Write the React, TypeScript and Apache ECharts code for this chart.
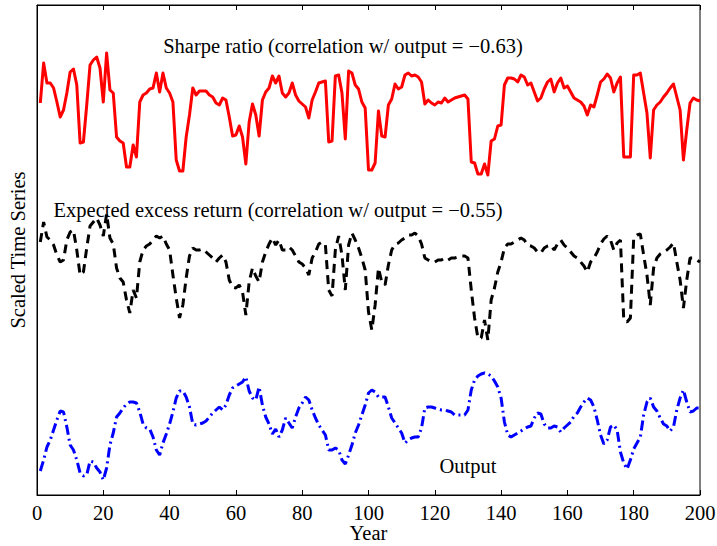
import React, { useEffect, useRef } from "react";
import * as echarts from "echarts";

// Years 1..200
const years: number[] = Array.from({ length: 200 }, (_, i) => i + 1);

// Scaled level (measured downward from the top of the frame; y axis is inverted)
const sharpeRatio: number[] = [
  103, 63, 83, 83, 88, 102, 117, 110, 93, 72,
  69, 85, 143, 142, 105, 65, 60, 57, 68, 102,
  53, 90, 93, 137, 141, 143, 167, 167, 145, 157,
  102, 95, 93, 89, 88, 73, 92, 73, 88, 93,
  102, 160, 171, 171, 137, 115, 88, 95, 91, 91,
  91, 95, 97, 103, 105, 98, 100, 117, 136, 135,
  126, 137, 164, 122, 104, 115, 136, 100, 92, 88,
  76, 83, 76, 93, 97, 93, 83, 95, 101, 104,
  107, 118, 100, 92, 83, 82, 81, 142, 141, 76,
  75, 93, 139, 71, 73, 85, 89, 102, 108, 170,
  170, 163, 111, 136, 137, 105, 99, 84, 89, 87,
  75, 73, 76, 75, 77, 82, 104, 100, 103, 105,
  102, 103, 98, 102, 100, 98, 97, 96, 95, 99,
  162, 163, 174, 174, 164, 175, 141, 139, 126, 125,
  85, 78, 78, 79, 82, 75, 77, 85, 83, 92,
  101, 98, 89, 82, 79, 92, 83, 78, 88, 86,
  92, 98, 100, 102, 106, 115, 105, 107, 95, 82,
  79, 74, 78, 92, 83, 77, 157, 157, 157, 75,
  75, 73, 93, 113, 158, 110, 105, 102, 97, 93,
  88, 84, 97, 110, 160, 130, 103, 98, 100, 101,
];

const expectedExcessReturn: number[] = [
  242, 222, 237, 240, 245, 255, 262, 260, 240, 232,
  230, 250, 275, 272, 248, 226, 222, 218, 225, 236,
  214, 238, 244, 268, 278, 282, 300, 313, 290, 298,
  262, 250, 246, 244, 240, 236, 238, 236, 244, 250,
  275, 298, 318, 305, 278, 256, 248, 250, 250, 249,
  252, 255, 258, 262, 258, 255, 262, 280, 287, 288,
  285, 292, 315, 282, 268, 276, 282, 262, 252, 244,
  238, 245, 240, 250, 250, 247, 250, 256, 262, 264,
  268, 275, 258, 252, 244, 242, 245, 290, 296, 250,
  236, 255, 290, 245, 233, 240, 248, 258, 270, 312,
  330, 305, 268, 282, 285, 265, 250, 244, 243, 240,
  238, 235, 235, 233, 236, 244, 258, 260, 262, 262,
  260, 260, 258, 260, 258, 258, 257, 256, 256, 258,
  290, 318, 338, 338, 320, 340, 300, 288, 272, 262,
  248, 244, 244, 242, 240, 238, 240, 245, 246, 248,
  252, 253, 248, 246, 245, 250, 244, 240, 245, 248,
  252, 256, 258, 262, 266, 272, 262, 258, 252, 244,
  239, 236, 240, 250, 243, 240, 320, 322, 318, 238,
  235, 234, 255, 275, 305, 268, 258, 254, 252, 250,
  247, 243, 262, 280, 308, 280, 258, 258, 260, 262,
];

const outputSeries: number[] = [
  471, 460, 447, 440, 430, 420, 411, 412, 427, 445,
  450, 460, 473, 476, 475, 461, 462, 468, 472, 480,
  468, 445, 433, 417, 413, 408, 404, 402, 402, 403,
  412, 424, 428, 429, 437, 450, 455, 443, 434, 424,
  412, 398, 391, 391, 397, 407, 424, 425, 424, 423,
  421, 417, 413, 410, 407, 410, 405, 395, 388, 386,
  384, 382, 377, 391, 398, 400, 387, 405, 417, 424,
  434, 429, 437, 430, 418, 423, 428, 417, 408, 403,
  397, 400, 410, 418, 425, 430, 435, 450, 450, 448,
  450, 460, 464, 455, 445, 433, 425, 415, 405, 393,
  390, 392, 397, 397, 397, 407, 418, 423, 428, 433,
  443, 440, 438, 437, 437, 428, 408, 407, 407, 408,
  409, 410, 410, 411, 412, 415, 415, 415, 415, 410,
  390, 380, 376, 374, 373, 374, 376, 381, 387, 398,
  422, 435, 437, 435, 433, 431, 429, 427, 426, 418,
  413, 414, 424, 428, 428, 426, 427, 432, 428, 425,
  422, 416, 413, 407, 402, 398, 400, 407, 420, 435,
  444, 440, 427, 425, 430, 452, 463, 469, 460, 449,
  443, 437, 415, 402, 398, 407, 411, 418, 424, 426,
  431, 427, 410, 398, 390, 402, 412, 411, 408, 408,
];

const xTicks: number[] = [0, 20, 40, 60, 80, 100, 120, 140, 160, 180, 200];

const labelSharpe = "Sharpe ratio (correlation w/ output = \u22120.63)";
const labelExpected = "Expected excess return (correlation w/ output = \u22120.55)";
const labelOutput = "Output";

const FONT = "'Liberation Serif', 'Times New Roman', serif";
const FS = 20.5;

export default function App() {
  const ref = useRef<HTMLDivElement>(null);

  useEffect(() => {
    if (!ref.current) return;
    const chart = echarts.init(ref.current, undefined, { renderer: "svg" });
    const pairs = (arr: number[]) => years.map((y, i) => [y, arr[i]]);
    const textStyle = { fontFamily: FONT, fontSize: FS, color: "#000" };

    chart.setOption({
      animation: false,
      backgroundColor: "#fff",
      grid: {
        left: 37,
        right: 17,
        top: 5,
        bottom: 51,
        show: true,
        borderColor: "#000",
        borderWidth: 1,
        backgroundColor: "transparent",
        outerBoundsMode: "none",
      },
      xAxis: [
        {
          type: "value",
          min: xTicks[0],
          max: xTicks[xTicks.length - 1],
          interval: 20,
          position: "bottom",
          axisLine: { show: true, onZero: false, lineStyle: { color: "#000", width: 1 } },
          axisTick: { show: true, inside: true, length: 5, lineStyle: { color: "#000", width: 1 } },
          axisLabel: { ...textStyle, margin: 7 },
          splitLine: { show: false },
          name: "Year",
          nameLocation: "middle",
          nameGap: 28,
          nameMoveOverlap: false,
          nameTextStyle: { ...textStyle, lineHeight: 20 },
        },
        {
          type: "value",
          min: xTicks[0],
          max: xTicks[xTicks.length - 1],
          interval: 20,
          position: "top",
          axisLine: { show: true, onZero: false, lineStyle: { color: "#000", width: 1 } },
          axisTick: { show: true, inside: true, length: 5, lineStyle: { color: "#000", width: 1 } },
          axisLabel: { show: false },
          splitLine: { show: false },
        },
      ],
      yAxis: {
        type: "value",
        inverse: true,
        min: 5,
        max: 495,
        axisLine: { show: true, onZero: false, lineStyle: { color: "#000", width: 1 } },
        axisTick: { show: false },
        axisLabel: { show: false },
        splitLine: { show: false },
        name: "Scaled Time Series",
        nameLocation: "middle",
        nameGap: 9,
        nameMoveOverlap: false,
        nameRotate: 90,
        nameTextStyle: textStyle,
      },
      graphic: [
        {
          type: "text",
          x: 343,
          y: 46,
          style: { text: labelSharpe, font: `${FS}px ${FONT}`, fill: "#000", textAlign: "center", textVerticalAlign: "middle" },
        },
        {
          type: "text",
          x: 278,
          y: 210,
          style: { text: labelExpected, font: `${FS}px ${FONT}`, fill: "#000", textAlign: "center", textVerticalAlign: "middle" },
        },
        {
          type: "text",
          x: 468,
          y: 466,
          style: { text: labelOutput, font: `${FS}px ${FONT}`, fill: "#000", textAlign: "center", textVerticalAlign: "middle" },
        },
      ],
      series: [
        {
          name: "Sharpe ratio",
          type: "line",
          data: pairs(sharpeRatio),
          symbol: "none",
          lineStyle: { color: "#ff0000", width: 3, type: "solid", join: "round" },
          z: 3,
        },
        {
          name: "Expected excess return",
          type: "line",
          data: pairs(expectedExcessReturn),
          symbol: "none",
          lineStyle: { color: "#000000", width: 3, type: [9, 6], cap: "butt" },
          z: 3,
        },
        {
          name: "Output",
          type: "line",
          data: pairs(outputSeries),
          symbol: "none",
          lineStyle: { color: "#0000ff", width: 3, type: [10, 4, 2, 4], cap: "butt" },
          z: 3,
        },
      ],
    });

    return () => chart.dispose();
  }, []);

  return (
    <div
      ref={ref}
      style={{ position: "absolute", left: 0, top: 0, width: 717, height: 546, background: "#fff" }}
    />
  );
}
